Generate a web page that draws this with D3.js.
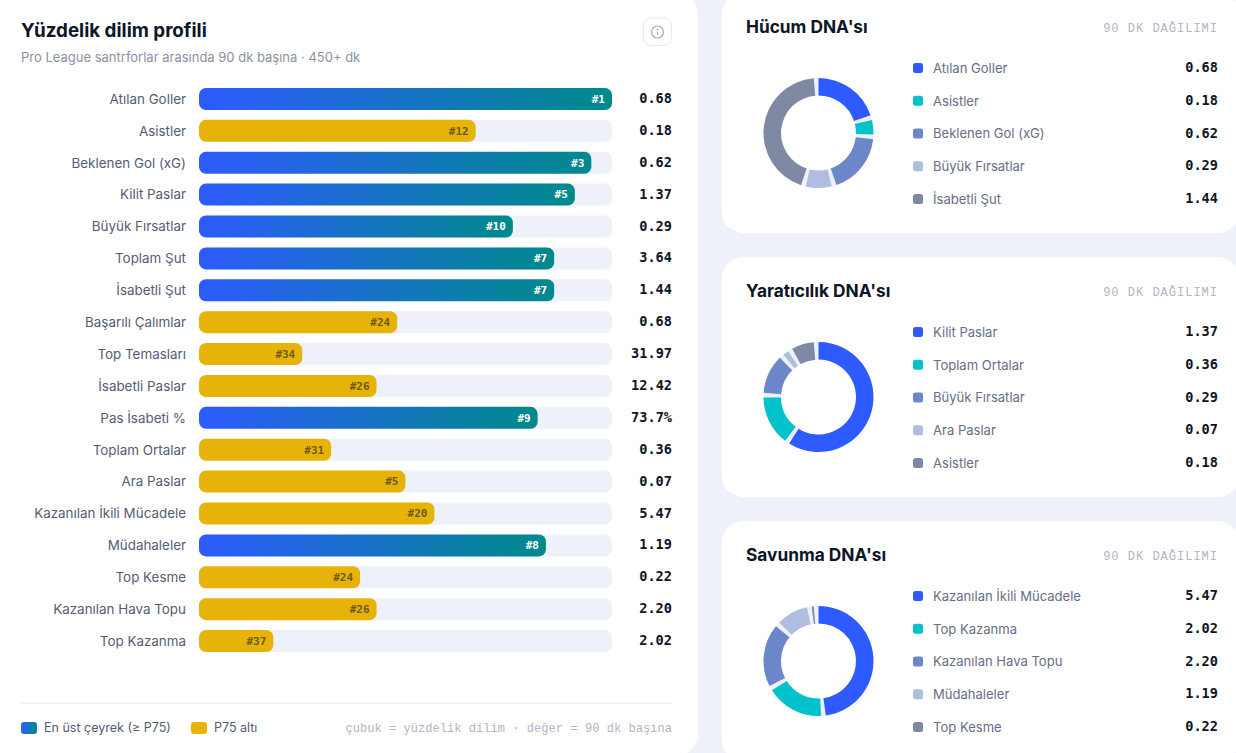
<!DOCTYPE html>
<html lang="tr">
<head>
<meta charset="utf-8">
<title>Yüzdelik dilim profili</title>
<script src="https://cdn.jsdelivr.net/npm/d3@7"></script>
<style>
html, body { margin: 0; padding: 0; background: #eef1f9; overflow: hidden; }
text { font-family: "Inter", "Noto Sans", sans-serif; }
.mono { font-family: "DejaVu Sans Mono", "Liberation Mono", monospace; }
.thin { font-family: "Liberation Mono", "DejaVu Sans Mono", monospace; }
</style>
</head>
<body>
<svg id="chart" width="1236" height="753"></svg>
<script>
// percentile profile
var metricLabels = ["Atılan Goller", "Asistler", "Beklenen Gol (xG)", "Kilit Paslar", "Büyük Fırsatlar", "Toplam Şut", "İsabetli Şut", "Başarılı Çalımlar", "Top Temasları", "İsabetli Paslar", "Pas İsabeti %", "Toplam Ortalar", "Ara Paslar", "Kazanılan İkili Mücadele", "Müdahaleler", "Top Kesme", "Kazanılan Hava Topu", "Top Kazanma"];
var percentiles = [100, 67, 95, 91, 76, 86, 86, 48, 25, 43, 82, 32, 50, 57, 84, 39, 43, 18];
var ranks = ["#1", "#12", "#3", "#5", "#10", "#7", "#7", "#24", "#34", "#26", "#9", "#31", "#5", "#20", "#8", "#24", "#26", "#37"];
var metricValues = ["0.68", "0.18", "0.62", "1.37", "0.29", "3.64", "1.44", "0.68", "31.97", "12.42", "73.7%", "0.36", "0.07", "5.47", "1.19", "0.22", "2.20", "2.02"];

// donut cards
var attackLabels = ["Atılan Goller", "Asistler", "Beklenen Gol (xG)", "Büyük Fırsatlar", "İsabetli Şut"];
var attackValues = [0.68, 0.18, 0.62, 0.29, 1.44];
var creativeLabels = ["Kilit Paslar", "Toplam Ortalar", "Büyük Fırsatlar", "Ara Paslar", "Asistler"];
var creativeValues = [1.37, 0.36, 0.29, 0.07, 0.18];
var defenceLabels = ["Kazanılan İkili Mücadele", "Top Kazanma", "Kazanılan Hava Topu", "Müdahaleler", "Top Kesme"];
var defenceValues = [5.47, 2.02, 2.20, 1.19, 0.22];

var donutColors = ["#2e5bff", "#00c2cb", "#6b86c9", "#aebde0", "#8089a3"];
var inkColor = "#0d1526", labelColor = "#545c75", mutedColor = "#8b91a3", faintColor = "#b1b5c4", trackColor = "#eef1f9", goldColor = "#e8b308";

var svg = d3.select("#chart");

var defs = svg.append("defs");
var blueGrad = defs.append("linearGradient")
    .attr("id", "barBlue")
    .attr("x1", "0").attr("y1", "0").attr("x2", "1").attr("y2", "0");
blueGrad.append("stop").attr("offset", "0%").attr("stop-color", "#2e5bff");
blueGrad.append("stop").attr("offset", "100%").attr("stop-color", "#008a8c");

// left card
svg.append("rect")
    .attr("x", -30).attr("y", -7)
    .attr("width", 728).attr("height", 763)
    .attr("rx", 22)
    .attr("fill", "#fff");

svg.append("text")
    .attr("x", 21).attr("y", 37)
    .attr("font-size", 18.8).attr("font-weight", 700)
    .attr("fill", inkColor)
    .text("Yüzdelik dilim profili");

svg.append("text")
    .attr("x", 21).attr("y", 62)
    .attr("font-size", 13)
    .attr("fill", mutedColor)
    .text("Pro League santrforlar arasında 90 dk başına · 450+ dk");

// info button
var info = svg.append("g").attr("transform", "translate(657.5,32)");
info.append("rect")
    .attr("x", -14).attr("y", -14).attr("width", 28).attr("height", 27.5).attr("rx", 8)
    .attr("fill", "#fff").attr("stroke", "#e6e8ef");
info.append("circle")
    .attr("r", 6).attr("fill", "none").attr("stroke", "#a9adb8").attr("stroke-width", 1.2);
info.append("line")
    .attr("y1", -0.5).attr("y2", 3).attr("stroke", "#a9adb8").attr("stroke-width", 1.2);
info.append("circle")
    .attr("cy", -2.6).attr("r", 0.8).attr("fill", "#a9adb8");

// bars
var xScale = d3.scaleLinear().domain([0, 100]).range([199, 612]);
var yScale = d3.scaleBand()
    .domain(metricLabels)
    .range([83, 657])
    .paddingInner(0.31)
    .paddingOuter(0.155);

var rows = svg.append("g").selectAll(".row")
    .data(metricLabels)
    .enter().append("g")
    .attr("class", "row")
    .attr("transform", function (d) {
        return "translate(0," + yScale(d) + ")";
    });

rows.append("rect")
    .attr("x", xScale(0))
    .attr("width", xScale(100) - xScale(0))
    .attr("height", yScale.bandwidth())
    .attr("rx", 7)
    .attr("fill", trackColor);

rows.append("rect")
    .attr("x", xScale(0))
    .attr("width", function (d, i) {
        return xScale(percentiles[i]) - xScale(0);
    })
    .attr("height", yScale.bandwidth())
    .attr("rx", 7)
    .attr("fill", function (d, i) {
        return percentiles[i] >= 75 ? "url(#barBlue)" : goldColor;
    });

rows.append("text")
    .attr("x", 186)
    .attr("y", yScale.bandwidth() / 2)
    .attr("dy", "0.36em")
    .attr("text-anchor", "end")
    .attr("font-size", 13.4)
    .attr("fill", labelColor)
    .text(function (d) {
        return d;
    });

rows.append("text")
    .attr("class", "mono")
    .attr("x", function (d, i) {
        return xScale(percentiles[i]) - 7;
    })
    .attr("y", yScale.bandwidth() / 2)
    .attr("dy", "0.35em")
    .attr("text-anchor", "end")
    .attr("font-size", 11)
    .attr("font-weight", 700)
    .attr("fill", function (d, i) {
        return percentiles[i] >= 75 ? "#fff" : "#6d5a1a";
    })
    .text(function (d, i) {
        return ranks[i];
    });

rows.append("text")
    .attr("class", "mono")
    .attr("x", 672)
    .attr("y", yScale.bandwidth() / 2)
    .attr("dy", "0.3em")
    .attr("text-anchor", "end")
    .attr("font-size", 13.6)
    .attr("font-weight", 700)
    .attr("fill", inkColor)
    .text(function (d, i) {
        return metricValues[i];
    });

// footer of the left card
svg.append("line")
    .attr("x1", 21).attr("x2", 672)
    .attr("y1", 703.5).attr("y2", 703.5)
    .attr("stroke", "#eceef3");

svg.append("rect")
    .attr("x", 21).attr("y", 722).attr("width", 16).attr("height", 12).attr("rx", 3)
    .attr("fill", "url(#barBlue)");
svg.append("text")
    .attr("x", 44).attr("y", 732)
    .attr("font-size", 12.5).attr("fill", labelColor)
    .text("En üst çeyrek (≥ P75)");
svg.append("rect")
    .attr("x", 191).attr("y", 722).attr("width", 16).attr("height", 12).attr("rx", 3)
    .attr("fill", goldColor);
svg.append("text")
    .attr("x", 214).attr("y", 732)
    .attr("font-size", 12.5).attr("fill", labelColor)
    .text("P75 altı");
svg.append("text")
    .attr("class", "thin")
    .attr("x", 672).attr("y", 732)
    .attr("text-anchor", "end")
    .attr("font-size", 12.1)
    .attr("fill", faintColor)
    .text("çubuk = yüzdelik dilim · değer = 90 dk başına");

// donut cards
var pie = d3.pie().sort(null).value(function (d) { return d; });
var arc = d3.arc().innerRadius(37.5).outerRadius(55);
var gapAngle = 5 * Math.PI / 180;

function drawCard(top, title, labels, values) {
    var card = svg.append("g").attr("transform", "translate(721.5," + top + ")");

    card.append("rect")
        .attr("width", 518).attr("height", 240).attr("rx", 22)
        .attr("fill", "#fff");

    card.append("text")
        .attr("x", 24.5).attr("y", 39.5)
        .attr("font-size", 17.3).attr("font-weight", 700)
        .attr("fill", inkColor)
        .text(title);

    card.append("text")
        .attr("class", "thin")
        .attr("x", 496.5).attr("y", 39)
        .attr("text-anchor", "end")
        .attr("font-size", 12)
        .attr("letter-spacing", "1px")
        .attr("fill", faintColor)
        .text("90 DK DAĞILIMI");

    var donut = card.append("g").attr("transform", "translate(97,140)");

    donut.append("circle")
        .attr("r", 46.25)
        .attr("fill", "none")
        .attr("stroke", trackColor)
        .attr("stroke-width", 17.5);

    donut.selectAll("path")
        .data(pie(values))
        .enter().append("path")
        // each slice gives up a little at its end, so the track shows through
        .attr("d", function (d) {
            return arc({startAngle: d.startAngle, endAngle: d.endAngle - gapAngle});
        })
        .attr("fill", function (d, i) {
            return donutColors[i];
        });

    var legendY = d3.scalePoint().domain(labels).range([75, 206]);

    var items = card.selectAll(".item")
        .data(labels)
        .enter().append("g")
        .attr("class", "item")
        .attr("transform", function (d) {
            return "translate(0," + legendY(d) + ")";
        });

    items.append("rect")
        .attr("x", 191.5).attr("y", -5).attr("width", 10).attr("height", 10).attr("rx", 2.5)
        .attr("fill", function (d, i) {
            return donutColors[i];
        });

    items.append("text")
        .attr("x", 211.5)
        .attr("dy", "0.38em")
        .attr("font-size", 13.05)
        .attr("fill", "#666e86")
        .text(function (d) {
            return d;
        });

    items.append("text")
        .attr("class", "mono")
        .attr("x", 496.5)
        .attr("dy", "0.3em")
        .attr("text-anchor", "end")
        .attr("font-size", 13.6)
        .attr("font-weight", 700)
        .attr("fill", inkColor)
        .text(function (d, i) {
            return d3.format(".2f")(values[i]);
        });
}

drawCard(-7, "Hücum DNA'sı", attackLabels, attackValues);
drawCard(257, "Yaratıcılık DNA'sı", creativeLabels, creativeValues);
drawCard(521, "Savunma DNA'sı", defenceLabels, defenceValues);
</script>
</body>
</html>
